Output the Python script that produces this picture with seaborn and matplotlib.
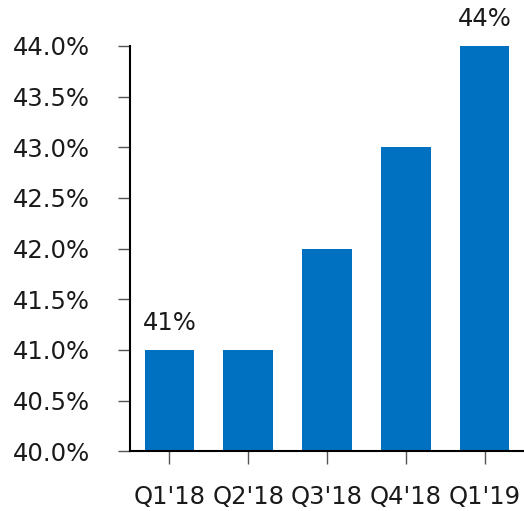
import matplotlib
matplotlib.use("Agg")
import matplotlib.pyplot as plt
import seaborn as sns
import pandas as pd

quarters = ["Q1'18", "Q2'18", "Q3'18", "Q4'18", "Q1'19"]
share = [41.0, 41.0, 42.0, 43.0, 44.0]
labeled = {0: "41%", 4: "44%"}
y_ticks = [40.0, 40.5, 41.0, 41.5, 42.0, 42.5, 43.0, 43.5, 44.0]

df = pd.DataFrame({"quarter": quarters, "share": share})

sns.set_style("white")
plt.rcParams["font.family"] = ["DejaVu Sans"]

fig = plt.figure(figsize=(5.24, 5.11), dpi=100)
ax = fig.add_axes([0.248, 0.117, 0.752, 0.793])

sns.barplot(data=df, x="quarter", y="share", color="#0070C0", saturation=1,
            width=0.63, linewidth=0, ax=ax)

ax.set_ylim(40, 44)
ax.set_xlim(-0.5, 4.5)
ax.set_yticks(y_ticks)
ax.set_yticklabels([f"{v:.1f}%" for v in y_ticks])
ax.set_xlabel("")
ax.set_ylabel("")

fs = 17.5
for i, txt in labeled.items():
    ax.annotate(txt, (i, share[i]), xytext=(0, 11), textcoords="offset points",
                ha="center", va="bottom", fontsize=fs, color="#1a1a1a",
                annotation_clip=False)

for side in ["top", "right"]:
    ax.spines[side].set_visible(False)
for side in ["left", "bottom"]:
    ax.spines[side].set_color("black")
    ax.spines[side].set_linewidth(1.5)

ax.tick_params(axis="y", length=9, width=1, color="#555555", pad=20,
               labelsize=fs, labelcolor="#1a1a1a", left=True)
ax.tick_params(axis="x", length=9, width=1, color="#555555", pad=15,
               labelsize=fs, labelcolor="#1a1a1a", bottom=True)

fig.savefig("out.png", dpi=100)
